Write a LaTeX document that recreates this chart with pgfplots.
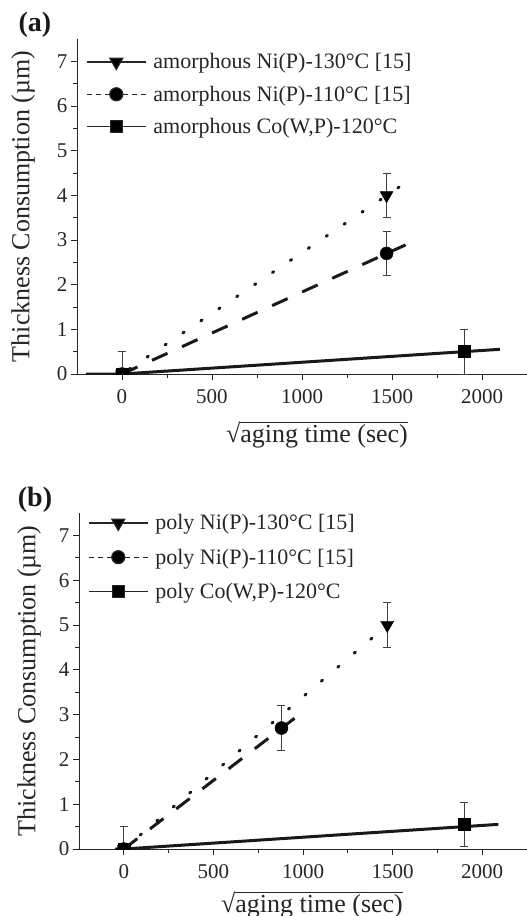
\documentclass[border=0pt]{standalone}
\usepackage{fontspec}
\setmainfont{Liberation Serif}
\usepackage{pgfplots}
\pgfplotsset{compat=1.18}

\pgfplotsset{
 panel/.style={
  scale only axis,
  xmin=-250, xmax=2250, ymin=0, ymax=7.5,
  axis x line*=bottom, axis y line*=left,
  axis line style={line width=0.9pt, black!85},
  xtick={0,500,...,2000}, ytick={0,...,7},
  minor x tick num=1, minor y tick num=1,
  tick align=outside, major tick length=6pt, minor tick length=3.5pt,
  every tick/.style={line width=0.9pt, black!85},
  /pgf/number format/assume math mode=true,
  /pgf/number format/1000 sep={},
  tick label style={font=\fontsize{21}{25}\selectfont, text=black!85},
  xticklabel style={yshift=-6pt},
  label style={font=\fontsize{26}{30}\selectfont, text=black!85},
  ylabel={Thickness Consumption (µm)},
  xlabel={√$\overline{\mbox{aging time (sec)}}$},
  clip marker paths=true,
  legend cell align=left,
  legend style={draw=none, fill=none, font=\fontsize{22}{26}\selectfont, text=black!85, row sep=14pt, column sep=5pt, inner sep=0pt},
  legend image code/.code={\draw[mark repeat=2,mark phase=2,#1] plot coordinates {(0pt,0pt)(29.5pt,0pt)(59pt,0pt)};},
 },
 ebar/.style={error bars/.cd, y dir=both, y explicit,
   error bar style={line width=0.8pt, black!75},
   error mark options={rotate=90, mark size=4pt, line width=0.8pt, black!75}, /pgfplots/.cd},
 dotfit/.style={black!90, line width=3pt, line cap=round, dash pattern=on 1.5pt off 20.1pt},
 dashfit/.style={black!90, line width=3pt, dash pattern=on 17pt off 16pt},
 solidfit/.style={black!90, line width=3pt},
 tri/.style={only marks, mark=triangle*, mark size=7.5pt, mark options={rotate=180, fill=black, draw=black, solid}},
 cir/.style={only marks, mark=*, mark size=6.5pt, mark options={fill=black, draw=black, solid}},
 squ/.style={only marks, mark=square*, mark size=6pt, mark options={fill=black, draw=black, solid}},
}

\begin{document}
\begin{tikzpicture}
\useasboundingbox (0,0) rectangle (527pt,-916pt);

% ---------- panel (a)
\begin{axis}[panel, width=450pt, height=335pt, at={(77pt,-374pt)}, anchor=south west,
  legend style={at={(0.02,0.963)}, anchor=north west, row sep=11.5pt},
  ylabel style={at={(axis description cs:0,0.5)}, anchor=center, yshift=54pt},
  xlabel style={at={(axis description cs:0.5,0)}, anchor=base, xshift=15pt, yshift=-68pt}]
\addlegendimage{black!85, line width=1.2pt, mark=triangle*, mark size=7.5pt, mark options={rotate=180, fill=black, solid}}
\addlegendentry{amorphous Ni(P)-130°C [15]}
\addlegendimage{black!85, line width=1.2pt, dash pattern=on 5pt off 4pt, mark=*, mark size=6.5pt, mark options={fill=black, solid}}
\addlegendentry{amorphous Ni(P)-110°C [15]}
\addlegendimage{black!85, line width=1.2pt, mark=square*, mark size=6pt, mark options={fill=black, solid}}
\addlegendentry{amorphous Co(W,P)-120°C}

\addplot[dotfit, forget plot] coordinates {(40,0.109) (1560,4.24)};
\addplot[dashfit, forget plot] coordinates {(0,0) (1575,2.89)};
\addplot[solidfit, forget plot] coordinates {(-200,0) (0,0) (2100,0.553)};

\addplot[forget plot, tri, ebar] coordinates {(0,0) +- (0,0.5) (1470,4.0) +- (0,0.5)};
\addplot[forget plot, cir, ebar] coordinates {(0,0) +- (0,0.5) (1470,2.7) +- (0,0.5)};
\addplot[forget plot, squ, ebar] coordinates {(0,0) +- (0,0.5) (1900,0.5) +- (0,0.5)};
\end{axis}
\node[font=\fontsize{28}{30}\selectfont\bfseries, text=black!90] at (35pt,-25pt) {(a)};

% ---------- panel (b)
\begin{axis}[panel, width=448pt, height=336pt, at={(79pt,-849pt)}, anchor=south west,
  legend style={at={(0.02,1.002)}, anchor=north west, row sep=13.5pt},
  ylabel style={at={(axis description cs:0,0.5)}, anchor=center, yshift=50pt},
  xlabel style={at={(axis description cs:0.5,0)}, anchor=base, xshift=9pt, yshift=-63pt}]
\addlegendimage{black!85, line width=1.2pt, mark=triangle*, mark size=7.5pt, mark options={rotate=180, fill=black, solid}}
\addlegendentry{poly Ni(P)-130°C [15]}
\addlegendimage{black!85, line width=1.2pt, dash pattern=on 5pt off 4pt, mark=*, mark size=6.5pt, mark options={fill=black, solid}}
\addlegendentry{poly Ni(P)-110°C [15]}
\addlegendimage{black!85, line width=1.2pt, mark=square*, mark size=6pt, mark options={fill=black, solid}}
\addlegendentry{poly Co(W,P)-120°C}

\addplot[dotfit, forget plot] coordinates {(0,0) (1530,5.2)};
\addplot[dashfit, forget plot] coordinates {(0,0) (960,2.94)};
\addplot[solidfit, forget plot] coordinates {(-50,0) (0,0) (2090,0.55)};

\addplot[forget plot, tri, ebar] coordinates {(0,0) +- (0,0.5) (1470,5.0) +- (0,0.5)};
\addplot[forget plot, cir, ebar] coordinates {(0,0) +- (0,0.5) (880,2.7) +- (0,0.5)};
\addplot[forget plot, squ, ebar] coordinates {(0,0) +- (0,0.5) (1900,0.55) +- (0,0.5)};
\end{axis}
\node[font=\fontsize{28}{30}\selectfont\bfseries, text=black!90] at (35pt,-500pt) {(b)};
\end{tikzpicture}
\end{document}
